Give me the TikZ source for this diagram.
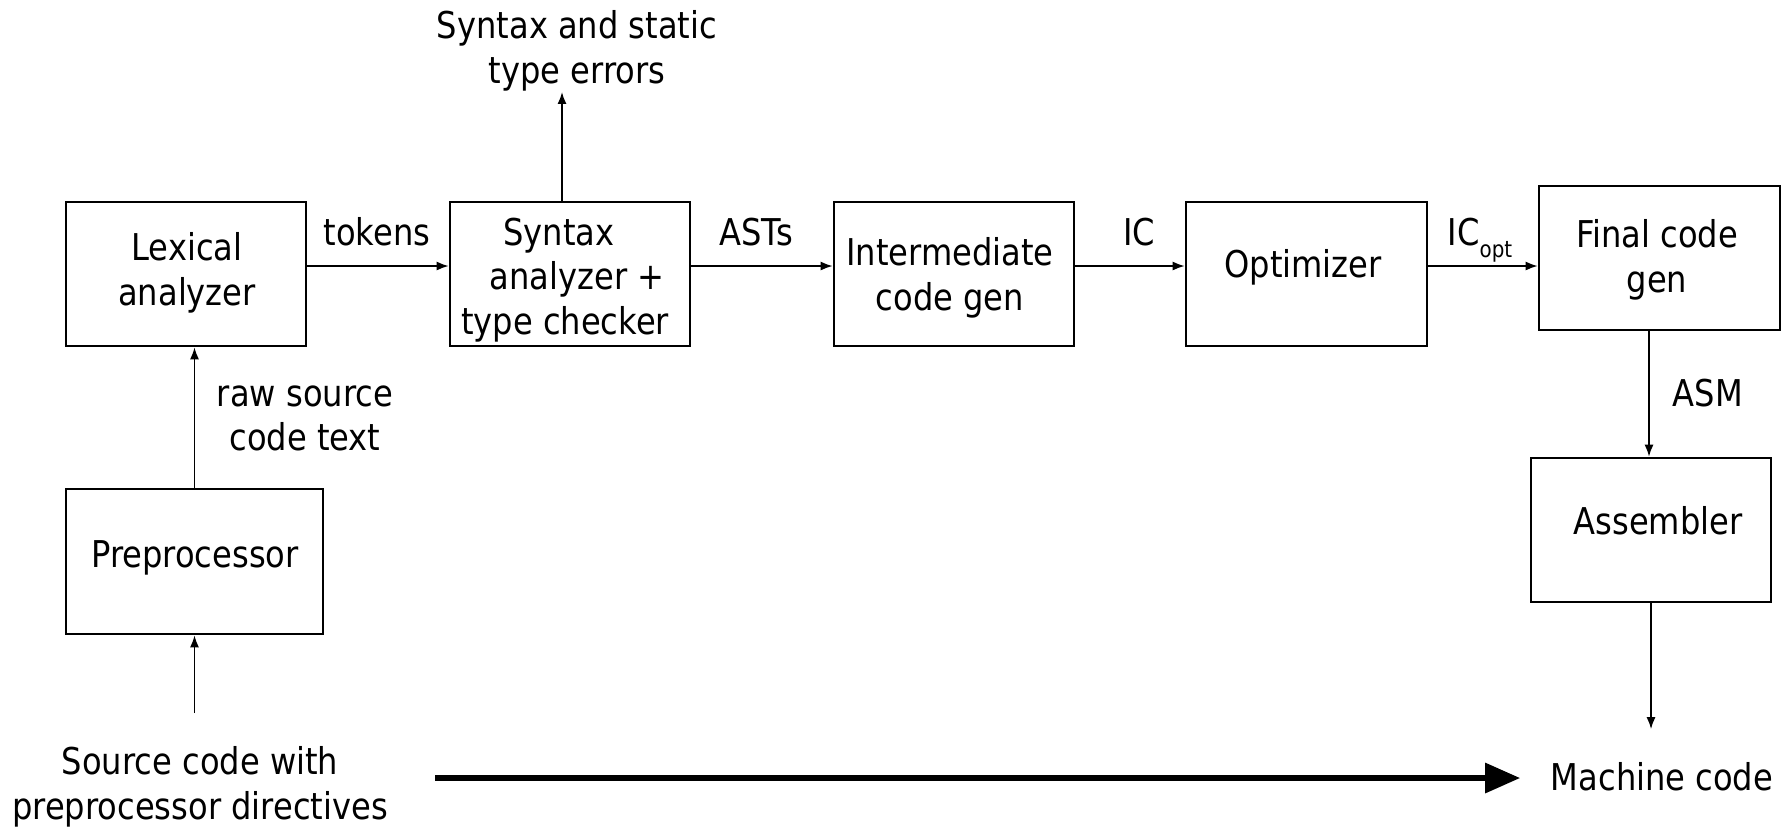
\documentclass[tikz,border=0pt]{standalone}
\usepackage{fontspec}
\setmainfont{DejaVu Sans}[FakeStretch=0.87]
\usetikzlibrary{arrows.meta}

\begin{document}
\begin{tikzpicture}[x=0.01cm,y=-0.01cm,
  every node/.style={font=\fontsize{10.5}{12.7}\selectfont},
  box/.style={draw, line width=0.7pt, inner sep=0pt,
              minimum width=2.4cm, minimum height=1.44cm},
  lbl/.style={inner sep=0pt, align=center},
  arr/.style={line width=0.5pt, -{Latex[length=0.12cm,width=0.09cm]}},
  bigarrow/.style={line width=0.06cm, -{Triangle[length=0.35cm,width=0.29cm]}}]

\useasboundingbox (0,0) rectangle (1792,826);

% processing stages
\node[box] (lex) at (186,274) {};
\node[box] (syn) at (570,274) {};
\node[box] (icg) at (954,274) {};
\node[box, minimum width=2.41cm] (opt) at (1306.5,274) {};
\node[box, minimum width=2.41cm] (fcg) at (1659.5,258) {};
\node[box] (asm) at (1651,530) {};
\node[box, minimum width=2.57cm, minimum height=1.45cm] (pre) at (194.5,561.5) {};

% stage captions
\node[lbl] (lexT) at (187,273) {Lexical\\analyzer};
\node[lbl] (synT) at (565,280) {Syntax\hspace*{0.12cm}\\\hspace*{0.24cm}analyzer +\\type checker};
\node[lbl] (icgT) at (950,277.5) {Intermediate\\code gen};
\node[lbl, anchor=base] (optT) at (1303,277) {Optimizer};
\node[lbl] (fcgT) at (1657,259.5) {Final code\\gen};
\node[lbl, anchor=base] (asmT) at (1658,534) {Assembler};
\node[lbl, anchor=base] (preT) at (195,567) {Preprocessor};

% inputs, outputs and edge labels
\node[lbl] (err) at (577,51) {Syntax and static\\type errors};
\node[lbl] (src) at (200,787) {Source code with\\preprocessor directives};
\node[lbl, anchor=base] (mc) at (1662,790) {Machine code};
\node[lbl] (raw) at (305,418.5) {raw source\\code text};
\node[lbl, anchor=base] (tok) at (377,245) {tokens};
\node[lbl, anchor=base] (ast) at (756,245) {ASTs};
\node[lbl, anchor=base] (ic) at (1139,245) {IC};
\node[lbl, anchor=base west] (icopt) at (1447,245) {IC\raisebox{-3.5pt}{\fontsize{6.5}{7}\selectfont opt}};
\node[lbl, anchor=base] (asmL) at (1708,406) {ASM};

% data flow
\draw[arr] ([yshift=0.08cm]lex.east) -- ([yshift=0.08cm]syn.west);
\draw[arr] ([yshift=0.08cm]syn.east) -- ([yshift=0.08cm]icg.west);
\draw[arr] ([yshift=0.08cm]icg.east) -- ([yshift=0.08cm]opt.west);
\draw[arr] ([yshift=0.08cm]opt.east) -- ([yshift=0.08cm]opt.east -| fcg.west);
\draw[arr] ([xshift=-0.105cm]fcg.south) -- ([xshift=-0.105cm]fcg.south |- asm.north);
\draw[arr, shorten >=0.32cm] (asm.south) -- (asm.south |- mc.north);
\draw[arr] (pre.north) -- (pre.north |- lex.south);
\draw[arr, shorten <=0.33cm] (pre.south |- src.north) -- (pre.south);
\draw[arr] ([xshift=-0.08cm]syn.north) -- ([xshift=-0.08cm]syn.north |- err.south);

% overall translation
\coordinate (bigstart) at (435,778);
\draw[bigarrow, shorten >=0.30cm] (bigstart) -- (bigstart -| mc.west);
\end{tikzpicture}
\end{document}
